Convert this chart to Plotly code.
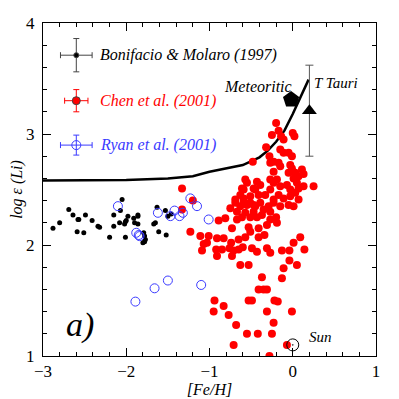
import plotly.graph_objects as go

FONT = 'Liberation Serif, DejaVu Serif, serif'

# Bonifacio & Molaro (1997)
bm_feh = [-2.88, -2.80, -2.69, -2.64, -2.58, -2.57, -2.59, -2.51, -2.49, -2.41, -2.34, -2.32,
          -2.20, -2.15, -2.15, -2.08, -2.07, -2.05, -2.01, -2.02, -2.00, -1.98, -2.01, -1.91,
          -1.90, -1.86, -1.86, -1.86, -1.79, -1.78, -1.78, -1.77, -1.80, -1.67, -1.65, -1.63,
          -1.61, -1.53, -1.52, -1.50, -1.46]
bm_li = [2.15, 2.20, 2.32, 2.27, 2.23, 2.23, 2.12, 2.11, 2.27, 2.22, 2.17, 2.16,
         2.07, 2.27, 2.17, 2.20, 2.31, 2.41, 2.07, 2.19, 2.22, 2.26, 2.21, 2.24,
         2.20, 2.27, 2.26, 2.19, 2.11, 2.08, 2.03, 2.05, 2.02, 2.19, 2.20, 2.34,
         2.12, 2.31, 2.09, 2.26, 2.28]

# Ryan et al. (2001)
ryan_feh = [-2.10, -1.88, -1.85, -1.84, -1.62, -1.47, -1.42, -1.36, -1.32, -1.23, -1.15, -1.01,
            -1.89, -1.66, -1.50, -1.10]
ryan_li = [2.35, 2.11, 2.09, 2.08, 2.29, 2.26, 2.31, 2.26, 2.29, 2.42, 2.35, 2.23,
           1.49, 1.61, 1.68, 1.64]

# Chen et al. (2001)
chen_feh = [-0.20, -0.25, -0.17, -0.14, -0.11, 0.00, 0.02, -0.32, -0.15, -0.11, -0.05, -0.01,
            -0.48, -0.28, -0.27, -0.23, -0.17, -0.15, -0.23, -0.03, -0.01, -0.05, 0.03, 0.11,
            0.13, 0.07, 0.01, 0.25, -0.57, -0.43, -0.39, -0.47, -0.59, -0.19, -0.23, -0.15,
            -0.07, -0.03, 0.05, 0.07, 0.13, -0.27, -0.33, -0.41, -0.51, -0.59, -0.17, -0.11,
            -0.03, 0.03, 0.07, -0.23, -0.39, -0.47, -0.55, -0.29, -0.15, -0.05, 0.01,
            -1.33, -1.20, -1.33, -1.23, -0.89, -0.81, -0.67, -0.73, -1.11, -1.01, -1.09, -0.91,
            -0.83, -0.74, -0.65, -0.85, -0.76, -0.71, -0.65, -0.60, -0.91, -0.73, -0.63, -0.53,
            -0.49, -0.43, -0.31, -0.27, -0.57, -0.51, -0.53, -0.41, -0.41, -0.34, -0.31, -0.27,
            -0.20, -0.19, -0.75, -0.69, -0.63, -0.67, -0.59, -0.51, -0.45, -0.47, -0.35, -0.27,
            -0.23, -0.57, -0.51, -0.61, -0.43, -0.37, -0.45, -0.61, -0.55, -0.27, -0.63, -0.69,
            -1.07, -1.03, -0.92, -0.13, -0.04, 0.01, 0.09, 0.14, -0.04, 0.05, -0.11, -0.37,
            -0.13, -0.41, -0.35, -0.31, -0.94, -0.83, -0.95, -0.77, -0.53, -0.49, -0.22, -0.18,
            -0.31, -0.01, -0.68, -0.23, -0.55, -0.42, -0.25, -0.71, -0.07, -0.28]
chen_li = [3.10, 2.99, 3.03, 2.98, 2.95, 3.01, 2.98, 2.88, 2.86, 2.83, 2.83, 2.80,
           2.75, 2.80, 2.74, 2.75, 2.74, 2.71, 2.66, 2.72, 2.69, 2.65, 2.65, 2.68,
           2.64, 2.62, 2.60, 2.53, 2.59, 2.57, 2.54, 2.51, 2.50, 2.59, 2.56, 2.53,
           2.54, 2.50, 2.56, 2.51, 2.53, 2.50, 2.45, 2.45, 2.44, 2.42, 2.45, 2.42,
           2.44, 2.47, 2.41, 2.41, 2.38, 2.36, 2.36, 2.35, 2.35, 2.36, 2.35,
           2.51, 2.40, 2.32, 2.12, 2.22, 2.24, 2.23, 2.15, 2.08, 2.08, 1.95, 2.06,
           2.06, 2.02, 2.05, 1.96, 1.97, 1.95, 1.96, 1.98, 1.90, 1.90, 1.82, 1.82,
           1.97, 1.94, 1.97, 1.93, 2.07, 2.12, 2.16, 2.15, 2.07, 2.09, 2.18, 2.23,
           2.25, 2.20, 2.33, 2.38, 2.35, 2.30, 2.39, 2.38, 2.35, 2.30, 2.32, 2.30,
           2.38, 2.29, 2.25, 2.25, 2.25, 2.27, 2.50, 2.51, 2.56, 2.59, 2.45, 2.41,
           2.01, 2.02, 1.96, 1.95, 1.95, 2.02, 2.07, 1.96, 1.86, 1.82, 1.79, 1.71,
           1.70, 1.60, 1.60, 1.60, 1.50, 1.45, 1.40, 1.37, 1.50, 1.50, 1.50, 1.49,
           1.40, 1.40, 1.28, 1.30, 1.20, 1.20, 1.20, 1.10, 1.10, 1.00]

# model curve
curve_feh = [-3.0, -2.5, -2.0, -1.5, -1.2, -1.0, -0.8, -0.6, -0.4, -0.3, -0.2, -0.1, 0.0, 0.1, 0.19]
curve_li = [2.58, 2.58, 2.585, 2.60, 2.62, 2.66, 2.69, 2.72, 2.79, 2.85, 2.93, 3.03, 3.18, 3.34, 3.49]

meteoritic = (-0.02, 3.31)
t_tauri = (0.20, 3.21, 0.41)
sun = (0.0, 1.1)

legend_items = [
    ('Bonifacio &amp; Molaro (1997)', 'black', 'circle', 5, 3.71, 0.19, 0.15),
    ('Chen et al. (2001)', 'red', 'circle', 8, 3.30, 0.14, 0.10),
    ('Ryan et al. (2001)', '#3a3aff', 'circle-open', 9, 2.90, 0.19, 0.09),
]

fig = go.Figure()

fig.add_trace(go.Scatter(x=curve_feh, y=curve_li, mode='lines',
                         line=dict(color='black', width=2.5)))
fig.add_trace(go.Scatter(x=bm_feh, y=bm_li, mode='markers',
                         marker=dict(color='black', size=5)))
fig.add_trace(go.Scatter(x=chen_feh, y=chen_li, mode='markers',
                         marker=dict(color='red', size=8)))
fig.add_trace(go.Scatter(x=ryan_feh, y=ryan_li, mode='markers',
                         marker=dict(color='#3a3aff', size=9, symbol='circle-open',
                                     line=dict(width=1))))
fig.add_trace(go.Scatter(x=[meteoritic[0]], y=[meteoritic[1]], mode='markers',
                         marker=dict(color='black', size=17, symbol='pentagon')))
fig.add_trace(go.Scatter(x=[t_tauri[0]], y=[t_tauri[1]], mode='markers',
                         marker=dict(color='black', size=13, symbol='triangle-up'),
                         error_y=dict(type='constant', value=t_tauri[2], color='#555555',
                                      thickness=1, width=4)))
fig.add_trace(go.Scatter(x=[sun[0]], y=[sun[1]], mode='markers',
                         marker=dict(color='black', size=12, symbol='circle-open-dot',
                                     line=dict(width=1))))

for name, color, symbol, size, y, ex, ey in legend_items:
    bar_color = color if color != 'black' else '#444444'
    fig.add_trace(go.Scatter(
        x=[-2.60], y=[y], mode='markers',
        marker=dict(color=color, size=size, symbol=symbol, line=dict(width=1)),
        error_x=dict(type='constant', value=ex, color=bar_color, thickness=1, width=3),
        error_y=dict(type='constant', value=ey, color=bar_color, thickness=1, width=3),
    ))
    fig.add_annotation(x=-2.34, y=y, text=f'<i>{name}</i>', showarrow=False,
                       xanchor='left', font=dict(family=FONT, size=16, color=color))

fig.add_annotation(x=-0.42, y=3.43, text='<i>Meteoritic</i>', showarrow=False,
                   font=dict(family=FONT, size=16, color='black'))
fig.add_annotation(x=0.52, y=3.46, text='<i>T Tauri</i>', showarrow=False,
                   font=dict(family=FONT, size=15, color='black'))
fig.add_annotation(x=0.17, y=1.17, text='<i>Sun</i>', showarrow=False, xanchor='left',
                   font=dict(family=FONT, size=15, color='black'))
fig.add_annotation(x=-2.55, y=1.28, text='<i>a)</i>', showarrow=False,
                   font=dict(family=FONT, size=34, color='black'))

axis_common = dict(
    showgrid=False, zeroline=False, showline=True, linecolor='black', linewidth=1,
    mirror='ticks', ticks='inside', ticklen=8, tickcolor='black', automargin=False,
    tickfont=dict(family=FONT, size=17, color='black'),
    minor=dict(dtick=0.2, ticks='inside', ticklen=4, tickcolor='black'),
)

fig.update_xaxes(range=[-3, 1], tickvals=[-3, -2, -1, 0, 1],
                 ticktext=['\u22123', '\u22122', '\u22121', '0', '1'],
                 title=dict(text='<i>[Fe/H]</i>', font=dict(family=FONT, size=16, color='black'),
                            standoff=0),
                 **axis_common)
fig.update_yaxes(range=[1, 4], tickvals=[1, 2, 3, 4], ticklabelstandoff=4,
                 title=dict(text='<i>log \u03b5 (Li)</i>', font=dict(family=FONT, size=16, color='black'),
                            standoff=2),
                 **axis_common)

# the page body adds an 8px margin, so the figure is sized and offset to fit the window
fig.update_layout(
    width=391, height=391,
    margin=dict(l=35, r=23, t=15, b=43),
    plot_bgcolor='white', paper_bgcolor='white',
    showlegend=False,
)

fig.write_html("out.html")
